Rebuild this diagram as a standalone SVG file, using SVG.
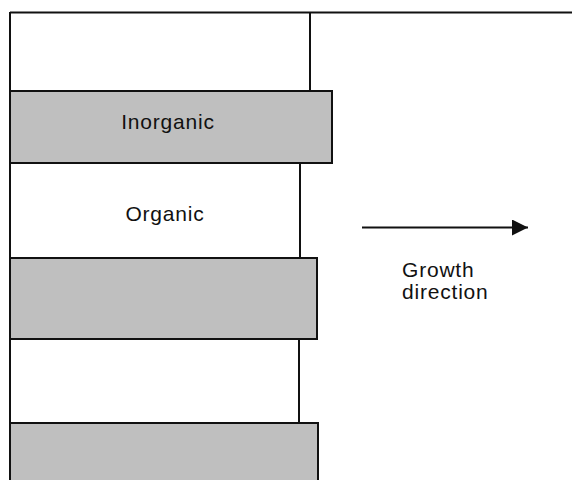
<svg xmlns="http://www.w3.org/2000/svg" width="572" height="480" viewBox="0 0 572 480">
<style>
.ln{stroke:#111;stroke-width:2;fill:none}
.gray{fill:#bfbfbf;stroke:#111;stroke-width:2}
.t{font-family:"Liberation Sans",Arial,sans-serif;font-size:21px;letter-spacing:0.8px;fill:#111}
</style>
<defs>
<marker id="ah" markerWidth="16" markerHeight="16" refX="16" refY="8" orient="auto" markerUnits="userSpaceOnUse">
<path d="M0,0 L16,8 L0,16 Z" fill="#111"/>
</marker>
</defs>
<rect width="572" height="480" fill="#fff"/>
<g id="frame">
<line class="ln" x1="10" y1="12.5" x2="572" y2="12.5"/>
<line class="ln" x1="10" y1="12" x2="10" y2="480"/>
</g>
<g id="organic1">
<line class="ln" x1="310" y1="12" x2="310" y2="91"/>
</g>
<g id="inorganic1">
<rect class="gray" x="10" y="91" width="322" height="72"/>
<text class="t" x="168" y="128.5" text-anchor="middle">Inorganic</text>
</g>
<g id="organic2">
<line class="ln" x1="300" y1="163" x2="300" y2="258"/>
<text class="t" x="165" y="221" text-anchor="middle">Organic</text>
</g>
<g id="inorganic2">
<rect class="gray" x="10" y="258" width="307" height="81"/>
</g>
<g id="organic3">
<line class="ln" x1="299" y1="339" x2="299" y2="423"/>
</g>
<g id="inorganic3">
<rect class="gray" x="10" y="423" width="308" height="70"/>
</g>
<g id="connectors">
<line class="ln" x1="362" y1="227.5" x2="528" y2="227.5" marker-end="url(#ah)"/>
</g>
<g id="label">
<text class="t" x="402" y="277">Growth</text>
<text class="t" x="402" y="298.5">direction</text>
</g>
</svg>
